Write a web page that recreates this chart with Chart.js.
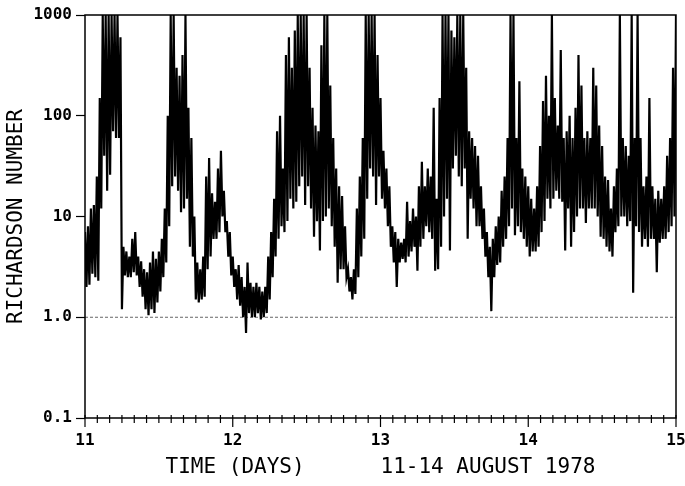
<!DOCTYPE html>
<html lang="en">
<head>
    <meta charset="UTF-8">
    <title>Richardson Number</title>
    <script src="https://cdn.jsdelivr.net/npm/chart.js"></script>
    <style>
        html, body { margin: 0; padding: 0; background: #fff; }
        .container { width: 685px; height: 486px; }
    </style>
</head>
<body>
    <div class="container">
        <canvas id="riChart" width="685" height="486"></canvas>
    </div>
    <script>
        // trace envelope, one pair per 0.02 day bin starting at day 11.00
        const binStart = 11;
        const binStep = 0.02;
        const upper = [
            7, 8, 12, 13, 25, 150, 1000, 1000, 1000, 1000,
            1000, 1000, 600, 5, 4.5, 4, 6, 7, 4, 3.6,
            3, 2.8, 3.5, 4.5, 3.8, 4.5, 6, 12, 100, 1000,
            1000, 300, 250, 400, 1000, 120, 60, 10, 3.5, 3,
            4, 25, 38, 17, 14, 30, 45, 18, 9, 7,
            4, 3, 3.3, 2.5, 2, 3.5, 2.2, 2, 2.2, 2,
            1.8, 2, 4, 7, 15, 70, 100, 30, 400, 600,
            300, 700, 1000, 1000, 1000, 1000, 300, 120, 80, 70,
            500, 1000, 1000, 200, 60, 30, 20, 16, 8, 3,
            2.5, 3, 12, 25, 60, 1000, 1000, 1000, 1000, 400,
            150, 45, 30, 20, 8, 7, 6, 5.5, 6, 14,
            9, 12, 10, 20, 35, 20, 30, 25, 120, 15,
            150, 1000, 1000, 1000, 700, 600, 1000, 1000, 1000, 300,
            70, 60, 50, 40, 20, 12, 7, 5, 6, 8,
            10, 18, 25, 60, 1000, 1000, 60, 220, 30, 25,
            20, 15, 12, 20, 50, 140, 250, 100, 1000, 150,
            80, 450, 60, 70, 100, 60, 120, 400, 200, 60,
            70, 60, 300, 200, 80, 50, 25, 23, 12, 20,
            30, 1000, 60, 50, 40, 1000, 60, 1000, 60, 20,
            25, 150, 20, 15, 18, 15, 20, 40, 60, 300,
            1000
        ];
        const lower = [
            2, 2.1, 2.7, 2.5, 2.3, 12, 40, 18, 26, 70,
            60, 60, 1.2, 2.6, 2.5, 2.5, 2.8, 2.6, 2, 1.6,
            1.2, 1.05, 1.2, 1.1, 1.4, 1.8, 2.5, 3.5, 8, 20,
            25, 18, 11, 12, 15, 5, 4, 1.5, 1.4, 1.5,
            1.6, 3, 4, 6, 6, 7, 10, 7, 4, 2.6,
            2, 1.5, 1.3, 1.0, 0.7, 1.1, 1.0, 1.0, 1.1, 0.95,
            1.0, 1.1, 1.5, 2.5, 4, 6, 8, 7, 9, 15,
            12, 14, 20, 25, 13, 20, 12, 6.3, 9, 4.6,
            9, 10, 12, 8, 5, 2.2, 3, 3, 2.5, 1.8,
            1.5, 1.7, 2.5, 4, 6, 15, 30, 25, 13, 25,
            15, 12, 8, 5, 3.5, 2, 3.5, 3.8, 3.5, 4,
            4.5, 5, 2.9, 5, 6, 8, 7, 6, 2.9, 3,
            5, 10, 15, 4.6, 30, 40, 25, 20, 30, 6,
            15, 12, 8, 8, 6, 4, 2.5, 1.15, 2.5, 3.3,
            3.5, 5, 6, 8, 12, 6.5, 8, 7, 6, 5,
            4, 4.5, 4.5, 5, 7, 9, 15, 12, 15, 18,
            15, 14, 4.6, 12, 5, 7, 10, 12, 12, 8.6,
            12, 12, 12, 10, 6.3, 6, 5, 4.5, 4, 7,
            8, 10, 10, 8, 9, 1.75, 8, 7, 5, 6,
            5, 6, 6, 2.8, 5.5, 6, 6, 7, 8, 10,
            6.3
        ];
        const yTicks = [0.1, 1, 10, 100, 1000];
        const yLabels = ['0.1', '1.0', '10', '100', '1000'];
        const xTicks = [11, 12, 13, 14, 15];

        const trace = [];
        upper.forEach((hi, i) => {
            const t = binStart + i * binStep;
            trace.push({x: t, y: hi});
            trace.push({x: t + binStep / 2, y: lower[i]});
        });

        // box around the plot plus the 2-hour ticks on the time axis
        const frame = {
            id: 'frame',
            afterDraw(chart) {
                const {ctx, chartArea: a, scales: {x}} = chart;
                ctx.save();
                ctx.strokeStyle = '#000';
                ctx.lineWidth = 1.5;
                ctx.strokeRect(a.left, a.top, a.right - a.left, a.bottom - a.top);
                ctx.lineWidth = 1.2;
                for (let k = 0; k <= 48; k++) {
                    const px = x.getPixelForValue(11 + k / 12);
                    const major = k % 12 === 0;
                    ctx.beginPath();
                    ctx.moveTo(px, a.bottom - 3);
                    ctx.lineTo(px, a.bottom + (major ? 9 : 5));
                    ctx.stroke();
                }
                ctx.restore();
            }
        };

        const mono = 'DejaVu Sans Mono';

        new Chart(document.getElementById('riChart'), {
            type: 'line',
            data: {
                datasets: [{
                    data: trace,
                    borderColor: '#000',
                    borderWidth: 2.2,
                    pointRadius: 0,
                    tension: 0
                }, {
                    data: [{x: 11, y: 1}, {x: 15, y: 1}],
                    borderColor: '#666',
                    borderWidth: 1,
                    borderDash: [3, 2],
                    pointRadius: 0
                }]
            },
            options: {
                responsive: false,
                animation: false,
                devicePixelRatio: 1,
                layout: { padding: { top: 15, right: 9, left: 0, bottom: 0 } },
                plugins: { legend: { display: false }, tooltip: { enabled: false } },
                scales: {
                    x: {
                        type: 'linear',
                        min: 11,
                        max: 15,
                        afterBuildTicks: s => { s.ticks = xTicks.map(v => ({value: v})); },
                        afterFit: s => { s.height = 68; s.paddingRight = 0; s.paddingLeft = 0; },
                        grid: { display: false, drawTicks: true, tickLength: 9 },
                        border: { display: false },
                        ticks: {
                            color: '#000',
                            padding: 4,
                            maxRotation: 0,
                            font: { family: mono, size: 16, weight: 'bold' }
                        },
                        title: {
                            display: true,
                            text: 'TIME (DAYS)      11-14 AUGUST 1978',
                            color: '#000',
                            padding: { top: 0, bottom: 6 },
                            font: { family: mono, size: 21 }
                        }
                    },
                    y: {
                        type: 'logarithmic',
                        min: 0.1,
                        max: 1000,
                        afterBuildTicks: s => { s.ticks = yTicks.map(v => ({value: v})); },
                        afterFit: s => { s.width = 85; },
                        grid: {
                            drawOnChartArea: false,
                            tickLength: 9,
                            tickWidth: 1.2,
                            tickColor: '#000'
                        },
                        border: { display: false },
                        ticks: {
                            color: '#000',
                            padding: 4,
                            font: { family: mono, size: 16, weight: 'bold' },
                            callback: v => yLabels[yTicks.indexOf(v)]
                        },
                        title: {
                            display: true,
                            text: 'RICHARDSON NUMBER',
                            color: '#000',
                            padding: { top: 4, bottom: 0 },
                            font: { family: mono, size: 21 }
                        }
                    }
                }
            },
            plugins: [frame]
        });
    </script>
</body>
</html>
